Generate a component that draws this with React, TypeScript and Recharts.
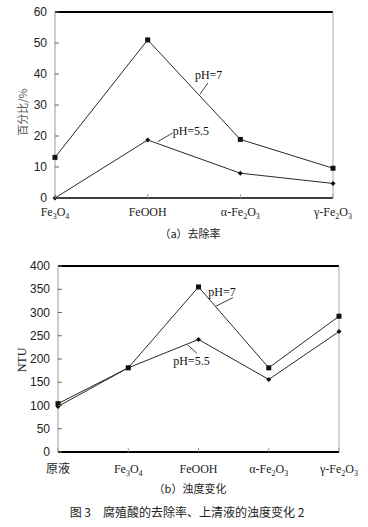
import React from "react";
import {
  LineChart,
  Line,
  XAxis,
  YAxis,
  ReferenceLine,
  ReferenceDot,
} from "recharts";

// (a) removal rate, %
const catsA = ["Fe3O4", "FeOOH", "α-Fe2O3", "γ-Fe2O3"];
const removalPH7 = [13.1, 51, 18.9, 9.6];
const removalPH55 = [0, 18.7, 8, 4.7];
const ticksA = [0, 10, 20, 30, 40, 50, 60];

// (b) turbidity, NTU
const catsB = ["原液", "Fe3O4", "FeOOH", "α-Fe2O3", "γ-Fe2O3"];
const ntuPH7 = [104, 181, 355, 181, 292];
const ntuPH55 = [98, 181, 242, 156, 259];
const ticksB = [0, 50, 100, 150, 200, 250, 300, 350, 400];

const dataA = catsA.map((c, i) => ({ i, c, ph7: removalPH7[i], ph55: removalPH55[i] }));
const dataB = catsB.map((c, i) => ({ i, c, ph7: ntuPH7[i], ph55: ntuPH55[i] }));

const SERIF = "Liberation Serif, Times New Roman, DejaVu Serif, serif";
const SANS = "Liberation Sans, Arial, sans-serif";
const CJK = "Noto Sans CJK SC, sans-serif";
const LINE = "#2a2a2a";

// digits after a letter become subscripts (Fe3O4 etc.)
function chemSpans(label: string) {
  const out: React.ReactNode[] = [];
  let sub = false;
  label.split("").forEach((ch, k) => {
    const isSub = /\d/.test(ch) && k > 0 && /[A-Za-z]/.test(label[k - 1]);
    let dy = 0;
    if (isSub && !sub) dy = 3;
    if (!isSub && sub) dy = -3;
    sub = isSub;
    out.push(
      <tspan key={k} dy={dy} fontSize={isSub ? 8 : 12}>
        {ch}
      </tspan>
    );
  });
  return out;
}

const makeXTick = (cats: string[], labelDy: number) => (props: any) => {
  const { x, y, payload } = props;
  const label = cats[payload.value];
  const cjk = /[\u4e00-\u9fff]/.test(label);
  return (
    <g>
      <line x1={x} x2={x} y1={y - 4} y2={y} stroke="#999" />
      <text
        x={x}
        y={y + labelDy}
        textAnchor="middle"
        style={{ fontFamily: cjk ? CJK : SERIF }}
        fontSize={12}
        fill="#222"
      >
        {cjk ? label : chemSpans(label)}
      </text>
    </g>
  );
};

const YTick = (props: any) => {
  const { x, y, payload } = props;
  return (
    <g>
      <line x1={x} x2={x + 4} y1={y} y2={y} stroke="#666" />
      <text x={x - 8} y={y + 4} textAnchor="end" style={{ fontFamily: SANS }} fontSize={12} fill="#222">
        {payload.value}
      </text>
    </g>
  );
};

const SquareDot = (props: any) => {
  const { cx, cy } = props;
  return <rect x={cx - 2.5} y={cy - 2.5} width={5} height={5} fill="#111" />;
};

const DiamondDot = (props: any) => {
  const { cx, cy } = props;
  return <path d={`M${cx} ${cy - 2.5}L${cx + 2.5} ${cy}L${cx} ${cy + 2.5}L${cx - 2.5} ${cy}Z`} fill="#111" />;
};

const annot = (value: string) => ({
  value,
  position: "right" as const,
  offset: 0,
  style: { fontFamily: SERIF },
  fontSize: 12,
  fill: "#111",
});

export default function App() {
  return (
    <div
      style={{
        position: "absolute",
        left: 0,
        top: 0,
        width: 368,
        height: 527,
        background: "#fff",
      }}
    >
      <div style={{ position: "absolute", left: 0, top: 0 }}>
        <LineChart width={368} height={225} data={dataA} margin={{ top: 12, right: 35, left: 10, bottom: 0 }}>
          <XAxis
            dataKey="i"
            type="number"
            domain={[0, 3]}
            ticks={[0, 1, 2, 3]}
            height={27}
            tickSize={0}
            tickMargin={0}
            axisLine={{ stroke: "#000", strokeWidth: 1.5 }}
            tick={makeXTick(catsA, 18)}
            interval={0}
          />
          <YAxis
            domain={[0, 60]}
            ticks={ticksA}
            width={45}
            tickSize={0}
            tickMargin={0}
            axisLine={{ stroke: "#999" }}
            tick={<YTick />}
            interval={0}
          />
          <ReferenceLine y={60} stroke="#000" strokeWidth={2} />
          <ReferenceLine x={3} stroke="#aaa" />
          <ReferenceLine segment={[{ x: 1.565, y: 33.5 }, { x: 1.65, y: 37.1 }]} stroke="#444" />
          <ReferenceLine segment={[{ x: 1.11, y: 18.2 }, { x: 1.27, y: 21 }]} stroke="#444" />
          <ReferenceDot x={1.51} y={39.7} r={0} stroke="none" label={annot("pH=7")} />
          <ReferenceDot x={1.27} y={21.8} r={0} stroke="none" label={annot("pH=5.5")} />
          <Line dataKey="ph7" stroke={LINE} strokeWidth={1} dot={<SquareDot />} isAnimationActive={false} />
          <Line dataKey="ph55" stroke={LINE} strokeWidth={1} dot={<DiamondDot />} isAnimationActive={false} />
        </LineChart>
      </div>
      <div
        style={{
          position: "absolute",
          left: 22,
          top: 112,
          transform: "translate(-50%, -50%) rotate(-90deg)",
          fontFamily: CJK,
          fontSize: 11,
          color: "#555",
          whiteSpace: "nowrap",
        }}
      >
        百分比/%
      </div>
      <div
        style={{
          position: "absolute",
          left: 0,
          width: 380,
          top: 225,
          textAlign: "center",
          fontFamily: CJK,
          fontSize: 11,
          color: "#222",
        }}
      >
        （a）去除率
      </div>

      <div style={{ position: "absolute", left: 0, top: 250 }}>
        <LineChart width={368} height={230} data={dataB} margin={{ top: 16, right: 29, left: 13, bottom: 0 }}>
          <XAxis
            dataKey="i"
            type="number"
            domain={[0, 4]}
            ticks={[0, 1, 2, 3, 4]}
            height={28}
            tickSize={0}
            tickMargin={0}
            axisLine={{ stroke: "#000", strokeWidth: 2 }}
            tick={makeXTick(catsB, 21)}
            interval={0}
          />
          <YAxis
            domain={[0, 400]}
            ticks={ticksB}
            width={45}
            tickSize={0}
            tickMargin={0}
            axisLine={{ stroke: "#999" }}
            tick={<YTick />}
            interval={0}
          />
          <ReferenceLine y={400} stroke="#000" strokeWidth={2} />
          <ReferenceLine x={4} stroke="#aaa" />
          <ReferenceLine segment={[{ x: 2.24, y: 313 }, { x: 2.49, y: 332 }]} stroke="#444" />
          <ReferenceLine segment={[{ x: 1.84, y: 231 }, { x: 1.98, y: 212 }]} stroke="#444" />
          <ReferenceDot x={2.14} y={344} r={0} stroke="none" label={annot("pH=7")} />
          <ReferenceDot x={1.64} y={197} r={0} stroke="none" label={annot("pH=5.5")} />
          <Line dataKey="ph7" stroke={LINE} strokeWidth={1} dot={<SquareDot />} isAnimationActive={false} />
          <Line dataKey="ph55" stroke={LINE} strokeWidth={1} dot={<DiamondDot />} isAnimationActive={false} />
        </LineChart>
      </div>
      <div
        style={{
          position: "absolute",
          left: 22,
          top: 360,
          transform: "translate(-50%, -50%) rotate(-90deg)",
          fontFamily: SERIF,
          fontSize: 12,
          color: "#222",
        }}
      >
        NTU
      </div>
      <div
        style={{
          position: "absolute",
          left: 0,
          width: 380,
          top: 480,
          textAlign: "center",
          fontFamily: CJK,
          fontSize: 11,
          color: "#222",
        }}
      >
        （b）浊度变化
      </div>
      <div
        style={{
          position: "absolute",
          left: 0,
          width: 374,
          top: 503,
          textAlign: "center",
          fontFamily: CJK,
          fontSize: 12,
          color: "#222",
          whiteSpace: "pre",
        }}
      >
        图 3　腐殖酸的去除率、上清液的浊度变化 2
      </div>
    </div>
  );
}
